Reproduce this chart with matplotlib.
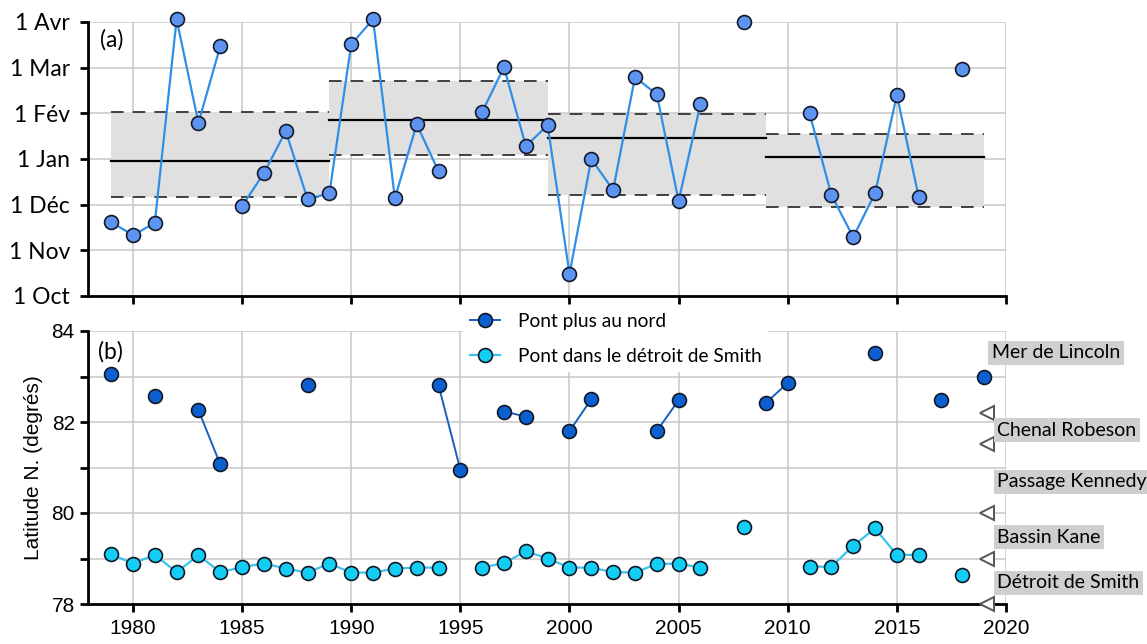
import numpy as np
import matplotlib
matplotlib.use('Agg')
from matplotlib import pyplot as plt

years = np.arange(1979, 2020)
nan = np.nan

# (a) formation date, in months after 1 Oct
onset = [1.62, 1.33, 1.60, 6.06, 3.79, 5.47, 1.97, 2.69, 3.61, 2.12,
         2.25, 5.51, 6.06, 2.14, 3.76, 2.73, nan, 4.03, 5.01, 3.28,
         3.74, 0.48, 3.00, 2.32, 4.79, 4.42, 2.08, 4.20, nan, 6.00,
         nan, nan, 4.00, 2.21, 1.29, 2.25, 4.40, 2.17, nan, 4.97, nan]
onset_breaks = [1985]   # no segment drawn into these years

# decade statistics (mean and spread) for the shaded boxes
period_start = [1979, 1989, 1999, 2009]
period_end = [1989, 1999, 2009, 2019]
period_mean = [2.96, 3.86, 3.46, 3.05]
period_low = [2.17, 3.09, 2.22, 1.95]
period_high = [4.02, 4.71, 3.98, 3.54]

month_labels = ['1 Oct', '1 Nov', '1 Déc', '1 Jan', '1 Fév', '1 Mar', '1 Avr']

# (b) latitude of the bridges
north = [83.05, nan, 82.57, nan, 82.26, 81.07, nan, nan, nan, 82.81,
         nan, nan, nan, nan, nan, 82.81, 80.95, nan, 82.23, 82.12,
         nan, 81.80, 82.50, nan, nan, 81.80, 82.48, nan, nan, nan,
         82.42, 82.86, nan, nan, nan, 83.52, nan, nan, 82.48, nan, 83.00]
smith = [79.09, 78.89, 79.08, 78.70, 79.07, 78.70, 78.81, 78.89, 78.78, 78.69,
         78.89, 78.69, 78.69, 78.78, 78.80, 78.80, nan, 78.80, 78.90, 79.16,
         79.00, 78.80, 78.80, 78.70, 78.69, 78.88, 78.89, 78.80, nan, 79.69,
         nan, nan, 78.82, 78.82, 79.28, 79.66, 79.08, 79.08, nan, 78.64, nan]

region_names = ['Mer de Lincoln', 'Chenal Robeson', 'Passage Kennedy',
                'Bassin Kane', 'Détroit de Smith']
region_label_y = [83.52, 81.82, 80.69, 79.47, 78.47]
region_label_x = [2019.35, 2019.6, 2019.6, 2019.6, 2019.6]
boundary_lat = [82.2, 81.51, 80.0, 78.99, 78.0]

calibri_like = 'Lato'
arial_like = 'Liberation Sans'

W, H = 1147, 644
fig = plt.figure(figsize=(W / 100, H / 100), dpi=100)
ax1 = fig.add_axes([88 / W, (H - 296) / H, 918 / W, 274 / H])
ax2 = fig.add_axes([88 / W, (H - 604) / H, 918 / W, 273 / H])

grid_kw = dict(color='#c8c8c8', lw=1.1, zorder=0)

def style(ax):
    for s in ['top', 'right']:
        ax.spines[s].set_visible(False)
    for s in ['left', 'bottom']:
        ax.spines[s].set_linewidth(2)
        ax.spines[s].set_zorder(5)
    ax.set_xlim(1977.94, 2020)
    ax.set_xticks(np.arange(1980, 2021, 5))
    ax.tick_params(length=6, width=2, direction='out')
    ax.grid(True, **grid_kw)
    ax.set_axisbelow(True)

# ---- (a)
style(ax1)
ax1.set_ylim(0, 6)
ax1.set_yticks(range(7))
ax1.set_yticklabels(month_labels, family=calibri_like, fontsize=16.5)
ax1.set_xticklabels([])
ax1.tick_params(axis='y', pad=7)

dash = (0, (7, 5))
for x0, x1, m, lo, hi in zip(period_start, period_end, period_mean, period_low, period_high):
    ax1.fill_between([x0, x1], lo, hi, color='#e0e0e0', lw=0, zorder=1)
    ax1.plot([x0, x1], [m, m], color='black', lw=1.6, zorder=2)
    ax1.plot([x0, x1], [lo, lo], color='#333333', lw=1.3, ls=dash, zorder=2)
    ax1.plot([x0, x1], [hi, hi], color='#333333', lw=1.3, ls=dash, zorder=2)

xs, ys = [], []
for y, v in zip(years, onset):
    if y in onset_breaks:
        xs.append(y - 0.5)
        ys.append(nan)
    xs.append(y)
    ys.append(v)
ax1.plot(xs, ys, color='#2f8ee8', lw=1.6, marker='o', ms=10,
         mfc='#5d94f2', mec='#141a28', mew=1.2, zorder=4, clip_on=False)
ax1.text(1978.5, 5.6, '(a)', family=calibri_like, fontsize=16.5, va='center')

# ---- (b)
style(ax2)
ax2.set_ylim(78, 84)
ax2.set_yticks(np.arange(78, 85, 1))
ax2.set_yticklabels(['78', '', '80', '', '82', '', '84'])
ax2.tick_params(labelsize=15)
ax2.tick_params(axis='x', pad=5)
for lab in ax2.get_xticklabels() + ax2.get_yticklabels():
    lab.set_family(arial_like)
ax2.set_ylabel('Latitude N. (degrés)', family=arial_like, fontsize=15, labelpad=6)

ax2.plot(years, north, color='#1a5fbd', lw=1.4, marker='o', ms=10,
         mfc='#0b5fcf', mec='#101828', mew=1.2, zorder=4, clip_on=False,
         label='Pont plus au nord')
ax2.plot(years, smith, color='#38c4ee', lw=1.6, marker='o', ms=10,
         mfc='#14cdf5', mec='#101828', mew=1.2, zorder=4, clip_on=False,
         label='Pont dans le détroit de Smith')

ax2.plot([2019.15] * len(boundary_lat), boundary_lat, ls='none', marker='<', ms=9.5,
         mfc='white', mec='#555555', mew=1.4, zorder=6, clip_on=False)
for name, x, y in zip(region_names, region_label_x, region_label_y):
    ax2.text(x, y, name, family=calibri_like, fontsize=14, va='center', ha='left',
             bbox=dict(facecolor='#cfcfcf', edgecolor='none', pad=2.5), zorder=7)
ax2.text(1978.4, 83.55, '(b)', family=calibri_like, fontsize=16.5, va='center')

leg = ax2.legend(loc='upper left', bbox_to_anchor=(463 / W, (H - 306) / H),
                 bbox_transform=fig.transFigure, prop=dict(family=calibri_like, size=13.8),
                 frameon=True, fancybox=False, framealpha=1, edgecolor='none',
                 handlelength=1.6, handletextpad=0.9, labelspacing=0.95,
                 borderpad=0.35, borderaxespad=0)
leg.set_zorder(8)

fig.savefig('out.png', dpi=100)
